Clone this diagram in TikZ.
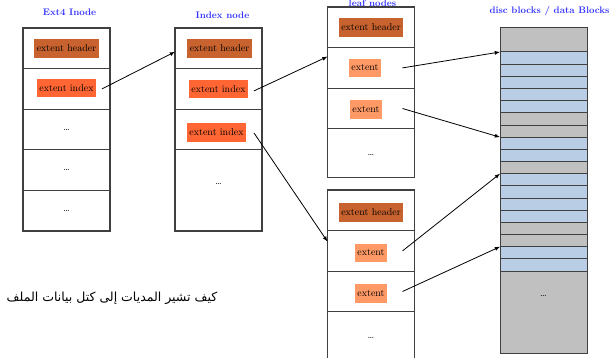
\documentclass[tikz,border=0pt]{standalone}
\usepackage{fontspec}
\TeXXeTstate=1
\newfontfamily\arabicfont[Script=Arabic]{DejaVu Sans}
\usetikzlibrary{positioning}

\definecolor{hdrcol}{RGB}{200,98,46}
\definecolor{idxcol}{RGB}{255,102,51}
\definecolor{extcol}{RGB}{255,153,102}
\definecolor{bluecol}{RGB}{185,205,229}
\definecolor{graycol}{RGB}{192,192,192}
\definecolor{titlecol}{RGB}{51,51,255}
\definecolor{linecol}{RGB}{64,64,64}

\tikzset{
  cell/.style={draw=linecol, line width=1.1pt, minimum width=87pt, minimum height=40.6pt,
    inner sep=0pt, outer sep=0pt},
  label box/.style={inner xsep=2.5pt, inner ysep=0pt, minimum height=18.5pt,
    font=\fontsize{10}{12}\selectfont},
  hdrbox/.style={label box, fill=hdrcol},
  idxbox/.style={label box, fill=idxcol},
  extbox/.style={label box, fill=extcol},
  stripe/.style={draw=linecol, line width=1pt, minimum width=87pt, minimum height=12.17pt,
    inner sep=0pt, outer sep=0pt},
  title/.style={text=titlecol, font=\bfseries\fontsize{9.5}{11}\selectfont},
  dots/.style={font=\fontsize{10}{12}\selectfont},
  pointer/.style={->, line width=0.8pt}
}

\begin{document}
\begin{tikzpicture}[x=1pt, y=-1pt, >=latex]
  \useasboundingbox (0,0) rectangle (613,358);

  % titles
  \node[title] (tino) at (69.5,12) {Ext4 Inode};
  \node[title] (tidx) at (222.5,15) {Index node};
  \node[title] (tleaf) at (372.5,3.5) {leaf nodes};
  \node[title, anchor=east] (tdisc) at (613,11) {disc blocks / data Blocks};

  % Ext4 inode
  \node[cell] (ino1) at (66.5,48.3) {};
  \node[cell, below=0pt of ino1] (ino2) {};
  \node[cell, below=0pt of ino2] (ino3) {};
  \node[cell, below=0pt of ino3] (ino4) {};
  \node[cell, below=0pt of ino4] (ino5) {};
  \node[hdrbox] (inohdr) at (ino1) {extent header};
  \node[idxbox] (inoidx) at ([yshift=1pt]ino2.center) {extent index};
  \node[dots] (inod3) at (ino3) {\dots};
  \node[dots] (inod4) at (ino4) {\dots};
  \node[dots] (inod5) at (ino5) {\dots};

  % index node
  \node[cell] (idx1) at (218.5,48.3) {};
  \node[cell, below=0pt of idx1] (idx2) {};
  \node[cell, below=0pt of idx2] (idx3) {};
  \node[cell, below=0pt of idx3, minimum height=81.2pt] (idx4) {};
  \node[hdrbox] (idxhdr) at ([xshift=1pt]idx1.center) {extent header};
  \node[idxbox] (idxa) at (idx2) {extent index};
  \node[idxbox] (idxb) at ([xshift=-2pt,yshift=-3pt]idx3.center) {extent index};
  \node[dots] (idxd) at ([yshift=6pt]idx4.center) {\dots};

  % leaf nodes, top
  \node[cell] (lfa1) at (371,27.3) {};
  \node[cell, below=0pt of lfa1] (lfa2) {};
  \node[cell, below=0pt of lfa2] (lfa3) {};
  \node[cell, below=0pt of lfa3, minimum height=49pt] (lfa4) {};
  \node[hdrbox] (lfahdr) at (lfa1) {extent header};
  \node[extbox] (lfaext1) at ([xshift=-6pt]lfa2.center) {extent};
  \node[extbox] (lfaext2) at ([xshift=-5pt,yshift=-1pt]lfa3.center) {extent};
  \node[dots] (lfad) at ([yshift=-1.5pt]lfa4.center) {\dots};

  % leaf nodes, bottom
  \node[cell] (lfb1) at (371,210.3) {};
  \node[cell, below=0pt of lfb1] (lfb2) {};
  \node[cell, below=0pt of lfb2] (lfb3) {};
  \node[cell, below=0pt of lfb3, minimum height=52pt] (lfb4) {};
  \node[hdrbox] (lfbhdr) at ([yshift=-2pt]lfb1.center) {extent header};
  \node[extbox] (lfbext1) at ([yshift=-2pt]lfb2.center) {extent};
  \node[extbox] (lfbext2) at ([yshift=-2pt]lfb3.center) {extent};
  \node[dots] (lfbd) at (lfb4) {\dots};

  % disc blocks
  \node[stripe, fill=graycol, minimum height=24pt] (dtop) at (543.5,40) {};
  \foreach \c [count=\i from 0] in {bluecol,bluecol,bluecol,bluecol,bluecol,graycol,graycol,
      bluecol,bluecol,graycol,bluecol,bluecol,bluecol,bluecol,graycol,graycol,bluecol,bluecol}
    \node[stripe, fill=\c] (d\i) at (543.5,58.08+12.17*\i) {};
  \node[stripe, fill=graycol, minimum height=82pt] (dend) at (543.5,312) {};
  \node[dots] (dd) at (543.5,296) {\dots};

  % pointers
  \draw[pointer] ([xshift=-8pt]ino2.east) -- ([yshift=-3.5pt]idx1.west);
  \draw[pointer] ([xshift=-8pt,yshift=-2pt]idx2.east) -- ([yshift=-9pt]lfa2.north west);
  \draw[pointer] ([xshift=-8pt,yshift=-3.5pt]idx3.east) -- ([yshift=-11pt]lfb2.north west);
  \draw[pointer] ([xshift=-12pt]lfa2.east) -- (d0.north west);
  \draw[pointer] ([xshift=-12pt]lfa3.east) -- (d7.north west);
  \draw[pointer] ([xshift=-12pt]lfb2.east) -- (d10.north west);
  \draw[pointer] ([xshift=-12pt]lfb3.east) -- (d16.north west);

  % caption
  \node (cap) at (112,298) {\arabicfont\fontsize{12.5}{15}\selectfont\beginR كيف تشير المديات إلى كتل بيانات الملف\endR};
\end{tikzpicture}
\end{document}
